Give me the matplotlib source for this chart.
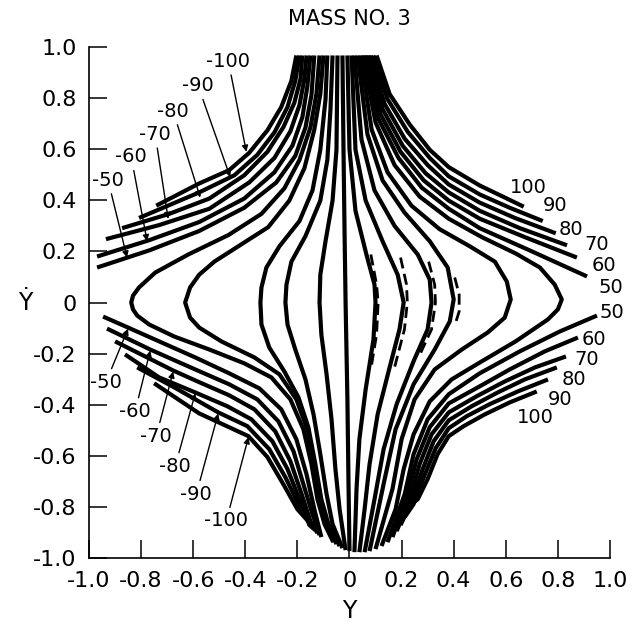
import matplotlib
matplotlib.use("Agg")
import matplotlib.pyplot as plt

plt.rcParams['font.family'] = 'DejaVu Sans'

# --- data (Y = position, Ydot = velocity) ---

# upper-left family (left end -> top), labelled -50 .. -100
ul_labels = [-50, -60, -70, -80, -90, -100]
ul_x = [
    [-0.969, -0.769, -0.577, -0.404, -0.281, -0.208, -0.169, -0.146, -0.135],
    [-0.969, -0.769, -0.577, -0.404, -0.288, -0.219, -0.181, -0.162, -0.150],
    [-0.935, -0.731, -0.538, -0.385, -0.288, -0.227, -0.192, -0.173, -0.165],
    [-0.873, -0.692, -0.538, -0.404, -0.315, -0.254, -0.212, -0.188, -0.181],
    [-0.808, -0.577, -0.442, -0.354, -0.288, -0.238, -0.208, -0.192],
    [-0.742, -0.577, -0.462, -0.385, -0.315, -0.262, -0.223, -0.204],
]
ul_y = [
    [0.137, 0.204, 0.280, 0.371, 0.470, 0.574, 0.685, 0.812, 0.967],
    [0.180, 0.244, 0.315, 0.407, 0.510, 0.614, 0.725, 0.844, 0.967],
    [0.248, 0.303, 0.367, 0.470, 0.566, 0.670, 0.773, 0.876, 0.967],
    [0.291, 0.347, 0.407, 0.498, 0.590, 0.686, 0.781, 0.876, 0.967],
    [0.331, 0.431, 0.498, 0.578, 0.666, 0.765, 0.868, 0.967],
    [0.379, 0.466, 0.518, 0.586, 0.674, 0.765, 0.868, 0.967],
]
ul_text = [(-0.927, 0.479), (-0.838, 0.570), (-0.746, 0.658), (-0.677, 0.749), (-0.581, 0.848), (-0.465, 0.944)]
ul_tip = [(-0.854, 0.176), (-0.777, 0.240), (-0.696, 0.327), (-0.573, 0.411), (-0.458, 0.491), (-0.396, 0.590)]

# lower-left family (left end -> bottom)
ll_labels = [-50, -60, -70, -80, -90, -100]
ll_x = [
    [-0.946, -0.850, -0.731, -0.592, -0.462, -0.346, -0.262, -0.204, -0.165, -0.135, -0.108],
    [-0.931, -0.765, -0.592, -0.462, -0.354, -0.273, -0.215, -0.177, -0.142, -0.115],
    [-0.900, -0.677, -0.592, -0.462, -0.365, -0.285, -0.227, -0.185, -0.150, -0.123],
    [-0.862, -0.731, -0.592, -0.469, -0.377, -0.296, -0.238, -0.192, -0.154, -0.131],
    [-0.815, -0.673, -0.504, -0.392, -0.308, -0.246, -0.196, -0.138],
    [-0.750, -0.577, -0.388, -0.315, -0.254, -0.200, -0.142],
]
ll_y = [
    [-0.055, -0.098, -0.152, -0.215, -0.277, -0.336, -0.418, -0.535, -0.672, -0.809, -0.918],
    [-0.102, -0.184, -0.262, -0.320, -0.379, -0.465, -0.582, -0.711, -0.828, -0.910],
    [-0.152, -0.266, -0.305, -0.363, -0.418, -0.504, -0.621, -0.746, -0.855, -0.902],
    [-0.203, -0.293, -0.352, -0.406, -0.457, -0.543, -0.652, -0.770, -0.871, -0.891],
    [-0.254, -0.332, -0.430, -0.484, -0.574, -0.684, -0.789, -0.883],
    [-0.316, -0.434, -0.523, -0.605, -0.711, -0.809, -0.875],
]
ll_text = [(-0.935, -0.312), (-0.823, -0.426), (-0.742, -0.523), (-0.669, -0.641), (-0.588, -0.750), (-0.473, -0.855)]
ll_tip = [(-0.850, -0.102), (-0.765, -0.188), (-0.677, -0.270), (-0.592, -0.355), (-0.504, -0.434), (-0.388, -0.527)]

# upper-right family (top -> right end), labelled 50 .. 100
ur_labels = [50, 60, 70, 80, 90, 100]
ur_x = [
    [0.058, 0.112, 0.188, 0.277, 0.381, 0.500, 0.692, 0.912],
    [0.065, 0.119, 0.196, 0.285, 0.381, 0.500, 0.673, 0.873],
    [0.073, 0.127, 0.204, 0.292, 0.381, 0.500, 0.654, 0.835],
    [0.081, 0.135, 0.212, 0.300, 0.381, 0.500, 0.635, 0.792],
    [0.092, 0.146, 0.223, 0.308, 0.381, 0.500, 0.615, 0.742],
    [0.104, 0.154, 0.231, 0.308, 0.381, 0.500, 0.596, 0.669],
]
ur_y = [
    [0.967, 0.717, 0.566, 0.450, 0.367, 0.291, 0.204, 0.102],
    [0.967, 0.737, 0.590, 0.478, 0.399, 0.328, 0.256, 0.176],
    [0.967, 0.757, 0.614, 0.506, 0.431, 0.359, 0.291, 0.224],
    [0.967, 0.777, 0.641, 0.538, 0.462, 0.391, 0.331, 0.271],
    [0.967, 0.796, 0.669, 0.566, 0.494, 0.423, 0.371, 0.319],
    [0.967, 0.816, 0.697, 0.598, 0.530, 0.458, 0.411, 0.375],
]
ur_text = [(1.004, 0.059), (0.977, 0.145), (0.950, 0.228), (0.850, 0.287), (0.788, 0.379), (0.688, 0.451)]

# lower-right family (right end -> bottom)
lr_labels = [50, 60, 70, 80, 90, 100]
lr_x = [
    [0.950, 0.808, 0.654, 0.500, 0.381, 0.300, 0.246, 0.212, 0.146],
    [0.877, 0.750, 0.615, 0.500, 0.381, 0.308, 0.258, 0.223, 0.165],
    [0.831, 0.712, 0.596, 0.488, 0.381, 0.315, 0.269, 0.231, 0.181],
    [0.796, 0.673, 0.569, 0.469, 0.381, 0.323, 0.281, 0.238, 0.196],
    [0.762, 0.646, 0.538, 0.450, 0.381, 0.331, 0.288, 0.246, 0.212],
    [0.719, 0.615, 0.519, 0.438, 0.381, 0.338, 0.300, 0.262, 0.227],
]
lr_y = [
    [-0.051, -0.113, -0.191, -0.277, -0.359, -0.457, -0.594, -0.750, -0.938],
    [-0.137, -0.191, -0.262, -0.328, -0.395, -0.488, -0.613, -0.750, -0.918],
    [-0.211, -0.254, -0.309, -0.367, -0.430, -0.516, -0.633, -0.770, -0.895],
    [-0.254, -0.301, -0.352, -0.406, -0.461, -0.543, -0.652, -0.781, -0.871],
    [-0.301, -0.348, -0.398, -0.445, -0.492, -0.570, -0.676, -0.789, -0.840],
    [-0.348, -0.391, -0.438, -0.484, -0.523, -0.594, -0.691, -0.770, -0.797],
]
lr_text = [(1.008, -0.039), (0.938, -0.145), (0.912, -0.223), (0.862, -0.301), (0.808, -0.379), (0.715, -0.449)]

# central curves (top cluster -> bottom cluster), widest first
mid_x = [
    [-0.115, -0.127, -0.150, -0.192, -0.250, -0.338, -0.465, -0.619, -0.746, -0.808, -0.831, -0.838,
     -0.831, -0.815, -0.769, -0.673, -0.538, -0.404, -0.300, -0.227, -0.177, -0.146, -0.123, -0.096, -0.062],
    [-0.100, -0.112, -0.135, -0.173, -0.231, -0.312, -0.427, -0.519, -0.577, -0.612, -0.631,
     -0.612, -0.577, -0.492, -0.365, -0.269, -0.204, -0.162, -0.135, -0.112, -0.088, -0.050],
    [-0.085, -0.092, -0.112, -0.142, -0.192, -0.269, -0.319, -0.338, -0.342,
     -0.338, -0.308, -0.250, -0.196, -0.158, -0.131, -0.108, -0.081, -0.038],
    [-0.065, -0.073, -0.085, -0.112, -0.169, -0.223, -0.242, -0.246,
     -0.238, -0.208, -0.169, -0.138, -0.112, -0.088, -0.065, -0.027],
    [-0.046, -0.050, -0.065, -0.092, -0.112, -0.115, -0.108, -0.088, -0.069, -0.054, -0.038, -0.015],
    [-0.027, -0.023, -0.019, -0.015, -0.008, -0.004, 0.000],
    [-0.008, 0.000, 0.023, 0.065, 0.096, 0.100, 0.092, 0.062, 0.038, 0.027, 0.019],
    [0.008, 0.023, 0.062, 0.127, 0.185, 0.208, 0.192, 0.154, 0.108, 0.077, 0.058, 0.038],
    [0.019, 0.046, 0.096, 0.173, 0.262, 0.308, 0.315, 0.300, 0.246, 0.181, 0.131, 0.096, 0.058],
    [0.031, 0.069, 0.127, 0.212, 0.308, 0.377, 0.400, 0.385, 0.327, 0.246, 0.177, 0.135, 0.077],
    [0.042, 0.085, 0.146, 0.238, 0.346, 0.462, 0.558, 0.604, 0.619, 0.596, 0.531, 0.431, 0.327,
     0.250, 0.200, 0.165, 0.100],
    [0.050, 0.100, 0.173, 0.269, 0.381, 0.508, 0.638, 0.731, 0.788, 0.815, 0.800, 0.762, 0.638,
     0.508, 0.392, 0.308, 0.246, 0.208, 0.177, 0.123],
]
mid_y = [
    [0.967, 0.816, 0.685, 0.558, 0.447, 0.347, 0.264, 0.188, 0.117, 0.059, 0.027, 0.000,
     -0.027, -0.051, -0.086, -0.133, -0.184, -0.238, -0.293, -0.379, -0.496, -0.633, -0.770, -0.867, -0.938],
    [0.967, 0.816, 0.677, 0.526, 0.399, 0.295, 0.220, 0.160, 0.109, 0.059, 0.000,
     -0.059, -0.098, -0.152, -0.215, -0.281, -0.379, -0.496, -0.633, -0.770, -0.867, -0.945],
    [0.967, 0.796, 0.598, 0.439, 0.319, 0.220, 0.137, 0.059, 0.000,
     -0.086, -0.176, -0.270, -0.371, -0.488, -0.633, -0.770, -0.867, -0.953],
    [0.967, 0.757, 0.558, 0.399, 0.260, 0.160, 0.070, 0.000,
     -0.086, -0.184, -0.301, -0.438, -0.594, -0.750, -0.867, -0.961],
    [0.967, 0.598, 0.399, 0.240, 0.109, 0.000, -0.125, -0.281, -0.457, -0.652, -0.809, -0.969],
    [0.967, 0.598, 0.280, 0.000, -0.379, -0.691, -0.973],
    [0.967, 0.598, 0.359, 0.188, 0.070, 0.000, -0.145, -0.340, -0.535, -0.730, -0.977],
    [0.967, 0.598, 0.399, 0.240, 0.109, 0.000, -0.105, -0.254, -0.438, -0.633, -0.809, -0.977],
    [0.967, 0.638, 0.439, 0.300, 0.188, 0.090, 0.000, -0.105, -0.230, -0.398, -0.574, -0.770, -0.977],
    [0.967, 0.658, 0.478, 0.351, 0.240, 0.137, 0.012, -0.074, -0.184, -0.320, -0.496, -0.691, -0.973],
    [0.967, 0.677, 0.510, 0.379, 0.287, 0.220, 0.160, 0.082, 0.012, -0.059, -0.117, -0.184, -0.262,
     -0.379, -0.535, -0.730, -0.965],
    [0.967, 0.705, 0.538, 0.415, 0.328, 0.256, 0.192, 0.137, 0.070, 0.012, -0.027, -0.066, -0.152,
     -0.230, -0.301, -0.387, -0.516, -0.652, -0.809, -0.953],
]

# broken (dashed) companion traces next to the right-hand central curves
dash_x = [
    [0.082, 0.104, 0.110, 0.104, 0.082],
    [0.196, 0.219, 0.222, 0.211, 0.173],
    [0.304, 0.327, 0.330, 0.315, 0.265],
    [0.404, 0.421, 0.421, 0.404],
]
dash_y = [
    [0.188, 0.070, 0.000, -0.125, -0.262],
    [0.176, 0.070, 0.000, -0.105, -0.254],
    [0.160, 0.070, 0.000, -0.105, -0.215],
    [0.098, 0.031, -0.035, -0.090],
]

ticks = [-1.0, -0.8, -0.6, -0.4, -0.2, 0.0, 0.2, 0.4, 0.6, 0.8, 1.0]
tick_labels = ['-1.0', '-0.8', '-0.6', '-0.4', '-0.2', '0', '0.2', '0.4', '0.6', '0.8', '1.0']

# --- drawing ---
fig = plt.figure(figsize=(6.34, 6.27), dpi=100)
ax = fig.add_axes([0.1404, 0.110, 0.8217, 0.815])

line_kw = dict(color='black', lw=3.0, solid_capstyle='butt', solid_joinstyle='round')

for xs, ys in zip(ul_x + ll_x + ur_x + lr_x + mid_x, ul_y + ll_y + ur_y + lr_y + mid_y):
    ax.plot(xs, ys, **line_kw)

for xs, ys in zip(dash_x, dash_y):
    ax.plot(xs, ys, color='black', lw=2.0, ls=(0, (4, 2)))

arrow_kw = dict(arrowstyle='-|>', color='black', lw=1.0, mutation_scale=9, shrinkA=1, shrinkB=0)
for lab, pos, tip in zip(ul_labels + ll_labels, ul_text + ll_text, ul_tip + ll_tip):
    ax.annotate(str(lab), xy=tip, xytext=pos, ha='center', va='center', fontsize=14,
                arrowprops=arrow_kw)

for lab, pos in zip(ur_labels + lr_labels, ur_text + lr_text):
    ax.text(pos[0], pos[1], str(lab), ha='center', va='center', fontsize=14, clip_on=False)

ax.set_xlim(-1, 1)
ax.set_ylim(-1, 1)
ax.set_xticks(ticks)
ax.set_xticklabels(tick_labels)
ax.set_yticks(ticks)
ax.set_yticklabels(tick_labels)
ax.tick_params(direction='in', length=13, width=1.1, labelsize=16, pad=9)
ax.spines['top'].set_visible(False)
ax.spines['right'].set_visible(False)
ax.spines['left'].set_linewidth(1.2)
ax.spines['bottom'].set_linewidth(1.2)

ax.set_xlabel('Y', fontsize=17)
ax.xaxis.set_label_coords(0.5, -0.08)
ax.set_ylabel('\u1E8E', fontsize=17, rotation=0, ha='center', va='center')
ax.yaxis.set_label_coords(-0.123, 0.5)
ax.set_title('MASS NO. 3', fontsize=15, y=1.043, pad=0)

fig.savefig('out.png', dpi=100)
